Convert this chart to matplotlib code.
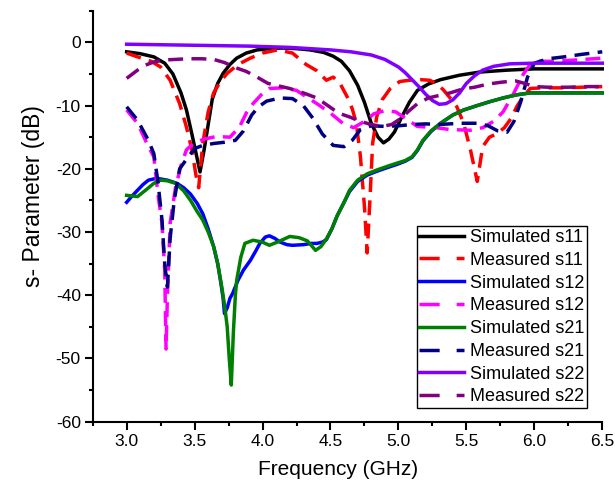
import matplotlib
matplotlib.use("Agg")
import matplotlib.pyplot as plt
from matplotlib.lines import Line2D
from matplotlib.ticker import MultipleLocator

plt.rcParams['font.family'] = ['Liberation Sans', 'DejaVu Sans']
plt.rcParams['axes.unicode_minus'] = False

# Simulated s11
f_s11 = [3.00, 3.10, 3.20, 3.28, 3.34, 3.40, 3.44, 3.48, 3.51, 3.54, 3.57, 3.60, 3.63, 3.67,
         3.71, 3.76, 3.81, 3.88, 3.96, 4.05, 4.15, 4.25, 4.35, 4.45, 4.52, 4.58, 4.64, 4.70,
         4.75, 4.80, 4.85, 4.89, 4.93, 4.97, 5.02, 5.08, 5.14, 5.22, 5.31, 5.45, 5.60, 5.80,
         6.00, 6.25, 6.50]
sim_s11 = [-1.5, -1.8, -2.3, -3.3, -5.0, -8.0, -10.7, -14.5, -17.5, -20.5, -17.0, -13.0, -9.0,
           -6.5, -4.9, -3.5, -2.5, -1.7, -1.2, -1.0, -0.9, -1.0, -1.2, -1.6, -2.2, -3.0, -4.5,
           -6.8, -9.5, -12.8, -15.0, -15.9, -15.3, -14.2, -12.0, -9.5, -7.6, -6.6, -5.9, -5.2,
           -4.7, -4.4, -4.2, -4.2, -4.2]

# Measured s11
f_m11 = [3.00, 3.08, 3.18, 3.25, 3.32, 3.39, 3.44, 3.48, 3.51, 3.53, 3.56, 3.60, 3.64, 3.69,
         3.74, 3.82, 3.91, 4.00, 4.11, 4.22, 4.32, 4.40, 4.47, 4.52, 4.57, 4.62, 4.66, 4.69,
         4.72, 4.75, 4.77, 4.79, 4.81, 4.84, 4.88, 4.94, 5.01, 5.08, 5.16, 5.23, 5.28, 5.33,
         5.38, 5.43, 5.48, 5.53, 5.58, 5.62, 5.67, 5.72, 5.78, 5.83, 5.87, 5.92, 5.97, 6.06,
         6.20, 6.35, 6.50]
meas_s11 = [-1.7, -2.3, -3.0, -3.9, -6.0, -9.7, -13.4, -17.0, -21.0, -23.0, -16.0, -11.0, -8.0,
            -6.2, -4.9, -3.5, -2.5, -1.7, -1.2, -1.7, -3.5, -4.5, -6.0, -5.5, -6.5, -8.5, -10.5,
            -12.8, -18.0, -26.0, -33.3, -25.0, -16.0, -11.8, -9.1, -7.3, -6.2, -6.0, -5.9, -6.0,
            -6.5, -7.5, -8.8, -10.2, -12.8, -17.0, -22.0, -16.5, -15.0, -14.5, -13.5, -12.0,
            -10.2, -8.5, -7.3, -7.2, -7.2, -7.1, -7.0]

# Simulated s12
f_s12 = [3.00, 3.04, 3.08, 3.12, 3.16, 3.22, 3.30, 3.37, 3.42, 3.47, 3.52, 3.56, 3.60, 3.64,
         3.67, 3.69, 3.71, 3.72, 3.74, 3.76, 3.78, 3.82, 3.86, 3.91, 3.95, 3.98, 4.02, 4.05,
         4.09, 4.13, 4.18, 4.22, 4.30, 4.36, 4.40, 4.44, 4.47, 4.51, 4.55, 4.60, 4.64, 4.70,
         4.77, 4.84, 4.92, 4.99, 5.05, 5.10, 5.14, 5.18, 5.24, 5.31, 5.40, 5.48, 5.58, 5.67,
         5.77, 5.87, 5.97, 6.10, 6.30, 6.50]
sim_s12 = [-25.3, -24.3, -23.4, -22.5, -21.8, -21.5, -21.8, -22.3, -23.0, -24.0, -25.5, -27.1,
           -29.5, -32.3, -35.0, -37.6, -40.5, -42.9, -42.0, -40.5, -39.7, -37.6, -36.0, -34.5,
           -33.0, -31.8, -30.8, -30.6, -31.0, -31.6, -32.0, -32.1, -32.0, -31.8, -31.8, -31.6,
           -31.2, -29.5, -27.4, -25.3, -23.6, -22.0, -21.0, -20.4, -19.8, -19.3, -18.8, -18.2,
           -17.1, -15.6, -14.1, -12.8, -11.5, -10.7, -10.0, -9.4, -8.8, -8.3, -8.0, -8.0,
           -8.0, -8.0]

# Measured s12
f_m12 = [3.00, 3.08, 3.16, 3.20, 3.23, 3.26, 3.28, 3.29, 3.30, 3.32, 3.36, 3.40, 3.44, 3.49,
         3.57, 3.66, 3.76, 3.83, 3.88, 3.93, 3.99, 4.05, 4.15, 4.25, 4.32, 4.40, 4.50, 4.59,
         4.67, 4.75, 4.82, 4.90, 4.98, 5.05, 5.14, 5.28, 5.38, 5.53, 5.62, 5.70, 5.77, 5.85,
         5.92, 5.97, 6.02, 6.15, 6.30, 6.50]
meas_s12 = [-10.7, -12.8, -16.5, -18.1, -24.0, -28.6, -36.0, -48.5, -40.0, -28.6, -22.9,
            -19.5, -17.0, -16.0, -15.3, -14.9, -15.0, -13.4, -11.2, -9.7, -8.3, -7.3, -7.2,
            -7.6, -8.6, -9.7, -11.2, -12.8, -13.5, -12.5, -11.3, -10.8, -11.0, -12.0, -13.3,
            -13.5, -13.8, -13.9, -13.5, -12.5, -11.0, -8.0, -5.0, -3.5, -3.0, -3.0, -2.8, -2.5]

# Simulated s21
f_s21 = [3.00, 3.08, 3.15, 3.20, 3.25, 3.30, 3.36, 3.42, 3.47, 3.52, 3.56, 3.60, 3.64, 3.67,
         3.70, 3.72, 3.74, 3.755, 3.77, 3.785, 3.80, 3.81, 3.84, 3.87, 3.93, 4.00, 4.05, 4.12,
         4.20, 4.27, 4.33, 4.39, 4.43, 4.47, 4.51, 4.55, 4.60, 4.64, 4.70, 4.77, 4.84, 4.92,
         4.99, 5.05, 5.10, 5.14, 5.18, 5.24, 5.31, 5.40, 5.48, 5.58, 5.67, 5.77, 5.87, 5.97,
         6.10, 6.30, 6.50]
sim_s21 = [-24.2, -24.4, -23.2, -22.3, -21.8, -21.9, -22.3, -23.5, -25.0, -26.8, -28.1, -30.0,
           -32.3, -35.0, -38.7, -41.5, -45.0, -50.0, -54.2, -46.0, -40.0, -37.6, -34.0, -31.8,
           -31.3, -31.6, -32.1, -31.5, -30.7, -30.9, -31.4, -32.9, -32.3, -31.1, -29.5, -27.4,
           -25.3, -23.4, -21.8, -20.8, -20.2, -19.6, -19.1, -18.7, -18.1, -17.0, -15.5, -14.0,
           -12.8, -11.5, -10.7, -10.0, -9.4, -8.8, -8.3, -8.0, -8.0, -8.0, -8.0]

# Measured s21
f_m21 = [3.00, 3.08, 3.16, 3.20, 3.23, 3.26, 3.28, 3.30, 3.32, 3.35, 3.39, 3.44, 3.50, 3.56,
         3.64, 3.72, 3.80, 3.86, 3.92, 3.97, 4.03, 4.13, 4.22, 4.30, 4.37, 4.44, 4.52, 4.60,
         4.66, 4.72, 4.80, 4.90, 5.00, 5.10, 5.20, 5.30, 5.45, 5.58, 5.66, 5.73, 5.80, 5.85,
         5.90, 5.95, 6.00, 6.10, 6.22, 6.35, 6.50]
meas_s21 = [-10.2, -12.3, -15.5, -17.6, -22.0, -28.1, -35.0, -38.7, -31.0, -25.0, -20.0, -18.5,
            -16.8, -16.3, -16.0, -15.8, -15.5, -14.0, -11.5, -10.2, -9.3, -8.8, -8.9, -10.0,
            -12.0, -14.5, -16.3, -16.5, -15.5, -13.8, -13.2, -13.3, -13.2, -13.0, -12.9, -13.0,
            -12.8, -12.8, -13.2, -14.0, -14.2, -12.5, -9.4, -5.5, -3.3, -2.6, -2.3, -1.9, -1.5]

# Simulated s22
f_s22 = [3.0, 3.3, 3.6, 3.9, 4.2, 4.5, 4.65, 4.8, 4.9, 5.0, 5.05, 5.1, 5.15, 5.2, 5.25, 5.3,
         5.35, 5.4, 5.45, 5.5, 5.56, 5.62, 5.7, 5.82, 6.0, 6.2, 6.5]
sim_s22 = [-0.3, -0.4, -0.5, -0.6, -0.8, -1.2, -1.5, -2.0, -2.7, -3.9, -4.8, -5.9, -7.0, -8.2,
           -9.2, -9.8, -9.7, -9.1, -8.0, -6.5, -5.3, -4.4, -3.8, -3.4, -3.3, -3.3, -3.3]

# Measured s22
f_m22 = [3.00, 3.08, 3.14, 3.20, 3.28, 3.36, 3.45, 3.55, 3.64, 3.72, 3.80, 3.88, 3.96, 4.04,
         4.12, 4.20, 4.30, 4.40, 4.48, 4.56, 4.64, 4.72, 4.80, 4.88, 4.95, 5.02, 5.08, 5.14,
         5.22, 5.30, 5.38, 5.47, 5.56, 5.66, 5.76, 5.86, 5.93, 6.00, 6.10, 6.25, 6.40, 6.50]
meas_s22 = [-5.7, -4.4, -3.6, -3.1, -2.8, -2.7, -2.6, -2.6, -2.7, -3.2, -4.0, -4.6, -5.5, -6.5,
            -6.9, -7.3, -8.0, -8.8, -10.0, -11.2, -11.8, -12.5, -13.0, -13.3, -13.0, -12.0,
            -10.8, -9.7, -8.8, -8.4, -8.0, -7.4, -7.1, -6.6, -6.3, -6.1, -6.5, -7.0, -7.1,
            -7.1, -7.0, -7.0]

series = [
    ("Simulated s11", f_s11, sim_s11, "#000000", False),
    ("Measured s11", f_m11, meas_s11, "#ff0000", True),
    ("Simulated s12", f_s12, sim_s12, "#0000ff", False),
    ("Measured s12", f_m12, meas_s12, "#ff00ff", True),
    ("Simulated s21", f_s21, sim_s21, "#008000", False),
    ("Measured s21", f_m21, meas_s21, "#000080", True),
    ("Simulated s22", f_s22, sim_s22, "#8000ff", False),
    ("Measured s22", f_m22, meas_s22, "#800080", True),
]

fig = plt.figure(figsize=(6.15, 4.91), dpi=100)
ax = fig.add_axes([0.1507, 0.1411, 0.8286, 0.8371])

handles = []
for label, fx, fy, color, dashed in series:
    if dashed:
        ax.plot(fx, fy, color=color, lw=2.5, dashes=(4.3, 2.4), clip_on=False)
        handles.append(Line2D([], [], color=color, lw=2.5, dashes=(5.8, 4.9)))
    else:
        ax.plot(fx, fy, color=color, lw=2.5, clip_on=False)
        handles.append(Line2D([], [], color=color, lw=2.5))

ax.set_xlim(2.75, 6.5)
ax.set_ylim(-60, 5)
ax.xaxis.set_major_locator(MultipleLocator(0.5))
ax.xaxis.set_minor_locator(MultipleLocator(0.25))
ax.yaxis.set_major_locator(MultipleLocator(10))
ax.yaxis.set_minor_locator(MultipleLocator(5))
ax.set_yticks(range(-60, 1, 10))
ax.set_xticks([3.0, 3.5, 4.0, 4.5, 5.0, 5.5, 6.0, 6.5])

for side in ['top', 'right']:
    ax.spines[side].set_visible(False)
for side in ['left', 'bottom']:
    ax.spines[side].set_linewidth(1.5)
ax.tick_params(which='major', direction='out', length=5.5, width=1.5, labelsize=12.5, pad=3)
ax.tick_params(which='minor', direction='out', length=3, width=1.5)

ax.set_xlabel("Frequency (GHz)", fontsize=15)
ax.set_ylabel("s- Parameter (dB)", fontsize=16.5)
ax.xaxis.set_label_coords(0.481, -0.093)
ax.yaxis.set_label_coords(-0.094, 0.549)

leg = ax.legend(handles, [s[0] for s in series], loc='lower right',
                bbox_to_anchor=(0.970, 0.033), borderaxespad=0, fontsize=13,
                handlelength=2.5, handletextpad=0.3, labelspacing=0.32, borderpad=0.15,
                fancybox=False, framealpha=1)
leg.get_frame().set_edgecolor('black')
leg.get_frame().set_linewidth(1.0)

fig.savefig("out.png", dpi=100)
